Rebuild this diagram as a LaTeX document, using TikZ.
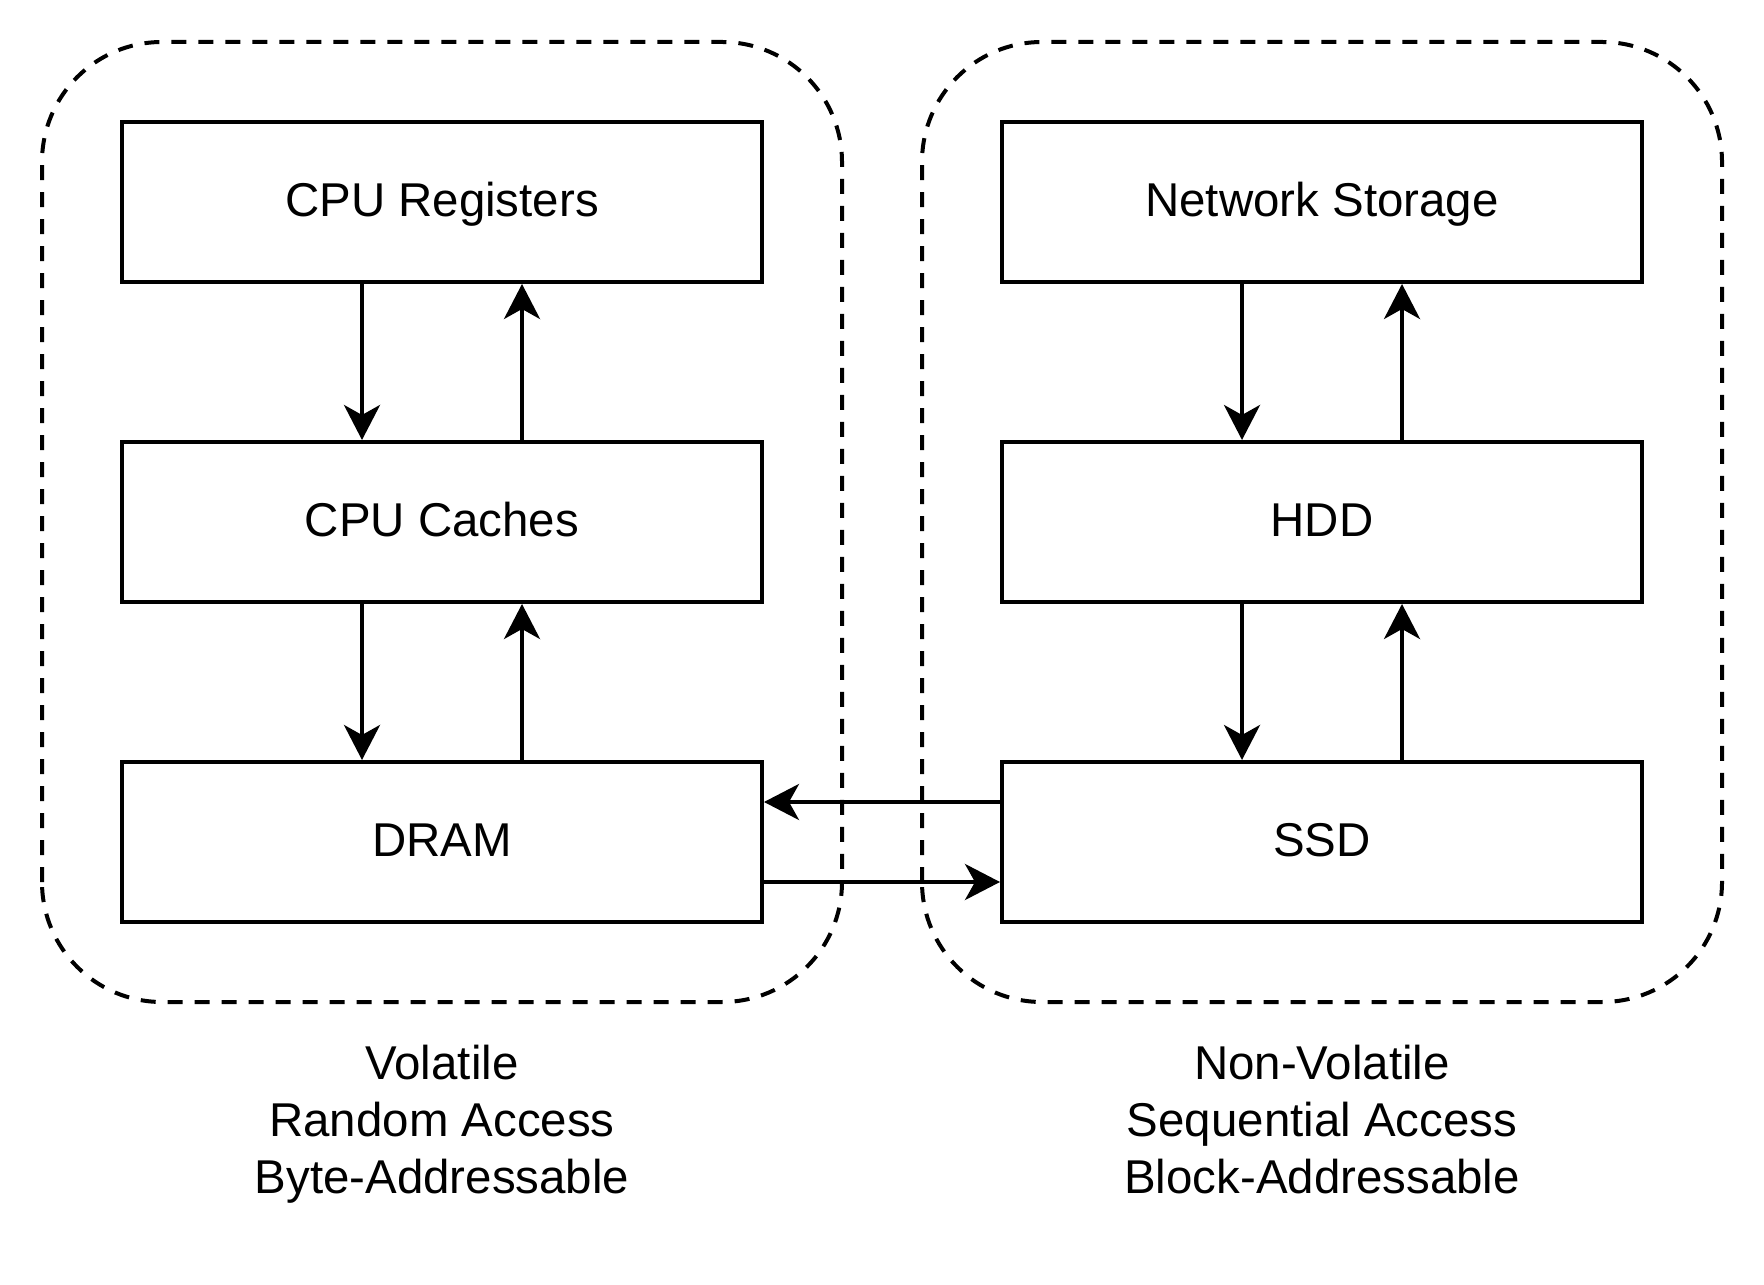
\documentclass[tikz,border=0pt]{standalone}
\usepackage{fontspec}
\setmainfont{Liberation Sans}
\usetikzlibrary{arrows.meta}

\begin{document}
\begin{tikzpicture}[
        box/.style={draw, line width=0.04cm, minimum width=6.4cm, minimum height=1.6cm, inner sep=0pt, text height=10pt, text depth=1.6pt},
        grp/.style={line width=0.04cm, dash pattern=on 0.15cm off 0.12cm, rounded corners=1.2cm},
        link/.style={line width=0.04cm, -{Stealth[length=0.35cm, width=0.36cm, inset=0.1cm]}},
        every node/.style={font=\fontsize{13.5}{16.2}\selectfont}
    ]
            \useasboundingbox (0, 0) rectangle (17.64, 12.84);
            \draw[grp] (0.42, 2.82) rectangle (8.42, 12.42);
            \draw[grp] (9.22, 2.82) rectangle (17.22, 12.42);

            \node[box] (reg) at (4.42, 10.82) {CPU Registers};
            \node[box] (cache) at (4.42, 7.62) {CPU Caches};
            \node[box] (dram) at (4.42, 4.42) {DRAM};

            \node[box] (net) at (13.22, 10.82) {Network Storage};
            \node[box] (hdd) at (13.22, 7.62) {HDD};
            \node[box] (ssd) at (13.22, 4.42) {SSD};

            \draw ([xshift=-0.8cm]reg.south) edge[link] ([xshift=-0.8cm]cache.north)
                ([xshift=0.8cm]cache.north) edge[link] ([xshift=0.8cm]reg.south)
                ([xshift=-0.8cm]cache.south) edge[link] ([xshift=-0.8cm]dram.north)
                ([xshift=0.8cm]dram.north) edge[link] ([xshift=0.8cm]cache.south);
            \draw ([xshift=-0.8cm]net.south) edge[link] ([xshift=-0.8cm]hdd.north)
                ([xshift=0.8cm]hdd.north) edge[link] ([xshift=0.8cm]net.south)
                ([xshift=-0.8cm]hdd.south) edge[link] ([xshift=-0.8cm]ssd.north)
                ([xshift=0.8cm]ssd.north) edge[link] ([xshift=0.8cm]hdd.south);
            \draw ([yshift=0.4cm]ssd.west) edge[link] ([yshift=0.4cm]dram.east)
                ([yshift=-0.4cm]dram.east) edge[link] ([yshift=-0.4cm]ssd.west);

            \node[align=center] (vol) at (4.42, 1.56) {Volatile\\Random Access\\Byte-Addressable\strut};
            \node[align=center] (nonvol) at (13.22, 1.56) {Non-Volatile\\Sequential Access\\Block-Addressable\strut};
        \end{tikzpicture}
\end{document}
